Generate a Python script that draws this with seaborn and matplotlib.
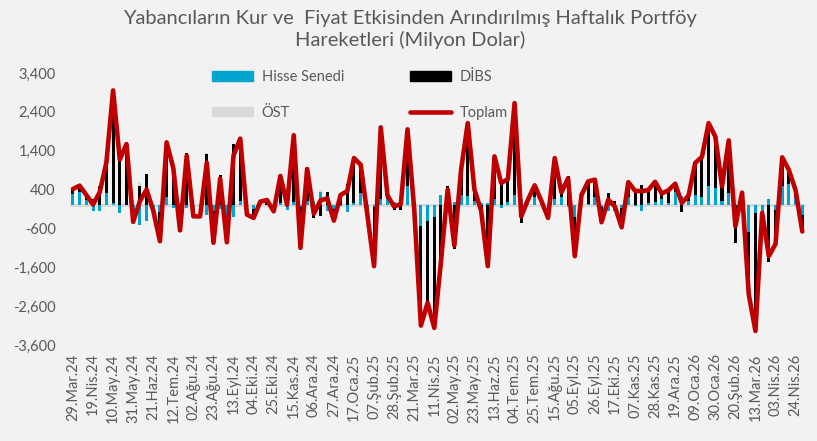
import numpy as np
import pandas as pd
import matplotlib
matplotlib.use("Agg")
import matplotlib.pyplot as plt
import seaborn as sns
from matplotlib.patches import Patch
from matplotlib.lines import Line2D


# Weekly categories, 29.Mar.24 .. 01.May.26
weeks = pd.date_range("2024-03-29", periods=110, freq="7D")

tick_labels = ["29.Mar.24", "19.Nis.24", "10.May.24", "31.May.24", "21.Haz.24", "12.Tem.24",
               "02.Ağu.24", "23.Ağu.24", "13.Eyl.24", "04.Eki.24", "25.Eki.24", "15.Kas.24",
               "06.Ara.24", "27.Ara.24", "17.Oca.25", "07.Şub.25", "28.Şub.25", "21.Mar.25",
               "11.Nis.25", "02.May.25", "23.May.25", "13.Haz.25", "04.Tem.25", "25.Tem.25",
               "15.Ağu.25", "05.Eyl.25", "26.Eyl.25", "17.Eki.25", "07.Kas.25", "28.Kas.25",
               "19.Ara.25", "09.Oca.26", "30.Oca.26", "20.Şub.26", "13.Mar.26", "03.Nis.26",
               "24.Nis.26"]

hisse = [290, 350, 140, -140, -150, 320, 60, -200, 0, -450,
         -500, -400, -100, -170, 200, -80, 50, -80, -250, -200,
         -250, -150, -100, -300, -300, 100, -50, -100, 50, 0,
         -80, 50, -130, 80, -50, 100, 100, 335, -150, -100,
         -30, -180, 50, 300, -100, -50, 150, 150, 80, 150,
         480, -100, -550, -400, -300, 250, -100, 80, 250, 230,
         100, 50, 60, 150, -80, 80, 250, 165, 50, 200,
         60, -100, 150, 200, -60, -300, 50, 30, 200, -50,
         -160, -150, -80, 200, -30, -150, 50, 80, 150, 60,
         350, 230, 100, 250, 200, 500, 450, 100, 300, 0,
         -30, -700, -200, -150, 150, -115, 500, 550, 200, -250]

dibs = [125, 150, 120, 155, 480, 750, 2890, 1370, 1570, -20,
        500, 800, -40, -760, 1415, 1030, -700, 1350, -40, -90,
        1310, -820, 780, -655, 1580, 1610, -195, -230, 40, 130,
        -80, 700, 140, 1680, -1050, 830, -320, -275, 325, -300,
        290, 540, 1160, 740, -150, -1520, 1850, 100, -120, -120,
        1470, 0, -2550, -2115, -2860, -1700, 500, -1120, 650, 1880,
        270, -190, -1630, 1105, 650, 590, 2375, -455, 90, 310,
        50, -230, 1060, 130, 750, -1015, 210, 580, 455, -390,
        300, 110, -490, 390, 400, 505, 340, 520, 150, 320,
        200, -175, 145, 795, 1040, 1610, 1315, 385, 1305, -975,
        50, -1600, -3040, -50, -1465, -885, 730, 350, 180, -430]

ost = [0, 0, 0, 0, 0, 30, 0, 0, 0, 40,
       100, 0, 0, 0, 0, 0, 0, 0, 0, 0,
       30, 0, 0, 0, 0, 0, 0, 0, 0, 0,
       0, 0, 0, 40, 0, 0, 0, 60, 0, 0,
       0, 0, 0, 0, 0, 0, 0, 0, 0, 0,
       0, 0, 0, 0, 0, 0, 0, 0, 0, 0,
       30, 0, 0, 0, 0, 0, 0, 0, 0, 0,
       0, 0, 0, 0, 0, 0, 0, 0, 0, 0,
       0, 0, 0, 0, 0, 0, 0, 0, 0, 0,
       0, 0, 0, 40, 0, 0, 0, 0, 60, 430,
       300, 0, 0, 0, 0, 0, 0, 0, 0, 0]

toplam = [415, 500, 260, 15, 330, 1100, 2950, 1170, 1570, -430,
          100, 400, -140, -930, 1615, 950, -650, 1270, -290, -290,
          1090, -970, 680, -955, 1280, 1710, -245, -330, 90, 130,
          -160, 750, 10, 1800, -1100, 930, -220, 120, 175, -400,
          260, 360, 1210, 1040, -250, -1570, 2000, 250, -40, 30,
          1950, -100, -3100, -2515, -3160, -1450, 400, -1040, 900, 2110,
          400, -140, -1570, 1255, 570, 670, 2625, -290, 140, 510,
          110, -330, 1210, 330, 690, -1315, 260, 610, 655, -440,
          140, -40, -570, 590, 370, 355, 390, 600, 300, 380,
          550, 55, 245, 1085, 1240, 2110, 1765, 485, 1665, -545,
          320, -2300, -3240, -200, -1315, -1000, 1230, 900, 380, -680]

BG = "#F2F2F2"
TXT = "#595959"
colors = {"Hisse Senedi": "#00A5CE", "DİBS": "#000000", "ÖST": "#D9D9D9"}

sns.set_theme(style="white")
plt.rcParams["font.family"] = ["Lato", "DejaVu Sans"]

fig = plt.figure(figsize=(8.17, 4.41), dpi=100, facecolor=BG)
ax = fig.add_axes([0.0852, 0.2177, 0.9009, 0.6168])
ax.set_facecolor(BG)

x = np.arange(len(weeks))
ax.axhline(0, color="#D9D9D9", lw=2, zorder=1)

# stacked bars, positives up and negatives down (Excel style)
pos_base = np.zeros(len(x))
neg_base = np.zeros(len(x))
for name, vals in [("Hisse Senedi", hisse), ("DİBS", dibs), ("ÖST", ost)]:
    v = np.array(vals, dtype=float)
    bottom = np.where(v >= 0, pos_base, neg_base)
    ax.bar(x, v, bottom=bottom, width=0.45, color=colors[name], zorder=2, linewidth=0)
    pos_base = pos_base + np.where(v > 0, v, 0)
    neg_base = neg_base + np.where(v < 0, v, 0)

df = pd.DataFrame({"pos": x, "Toplam": toplam})
sns.lineplot(data=df, x="pos", y="Toplam", color="#C00000", lw=3.3, ax=ax, zorder=3,
             solid_joinstyle="round", solid_capstyle="round")

ax.set_xlim(-0.5, len(x) - 0.5)
ax.set_ylim(-3600, 3400)
ax.set_yticks(np.arange(-3600, 3401, 1000))
ax.set_yticklabels([f"{v:,.0f}" for v in np.arange(-3600, 3401, 1000)], fontsize=10.5, color=TXT)
ax.set_xticks(x[::3])
ax.set_xticklabels(tick_labels, rotation=90, fontsize=10.5, color=TXT)
ax.tick_params(axis="x", length=0, pad=6)
ax.tick_params(axis="y", length=0, pad=10)
ax.set_xlabel("")
ax.set_ylabel("")
for s in ax.spines.values():
    s.set_visible(False)

fig.text(0.502, 1 - 29.5 / 441, "Yabancıların Kur ve  Fiyat Etkisinden Arındırılmış Haftalık Portföy\nHareketleri (Milyon Dolar)",
         ha="center", va="center", fontsize=14.5, color=TXT, linespacing=1.25)

handles = [Patch(color=colors["Hisse Senedi"], label="Hisse Senedi"),
           Patch(color=colors["ÖST"], label="ÖST"),
           Patch(color=colors["DİBS"], label="DİBS"),
           Line2D([0], [0], color="#C00000", lw=3.3, label="Toplam")]
fig.legend(handles=handles, ncol=2, frameon=False, loc="upper left",
           bbox_to_anchor=(199 / 817, 1 - 57 / 441), fontsize=10.5, labelcolor=TXT,
           handlelength=2.8, handleheight=0.6, handletextpad=0.6,
           labelspacing=1.5, columnspacing=4.5)

fig.savefig("out.png", dpi=100, facecolor=BG)
